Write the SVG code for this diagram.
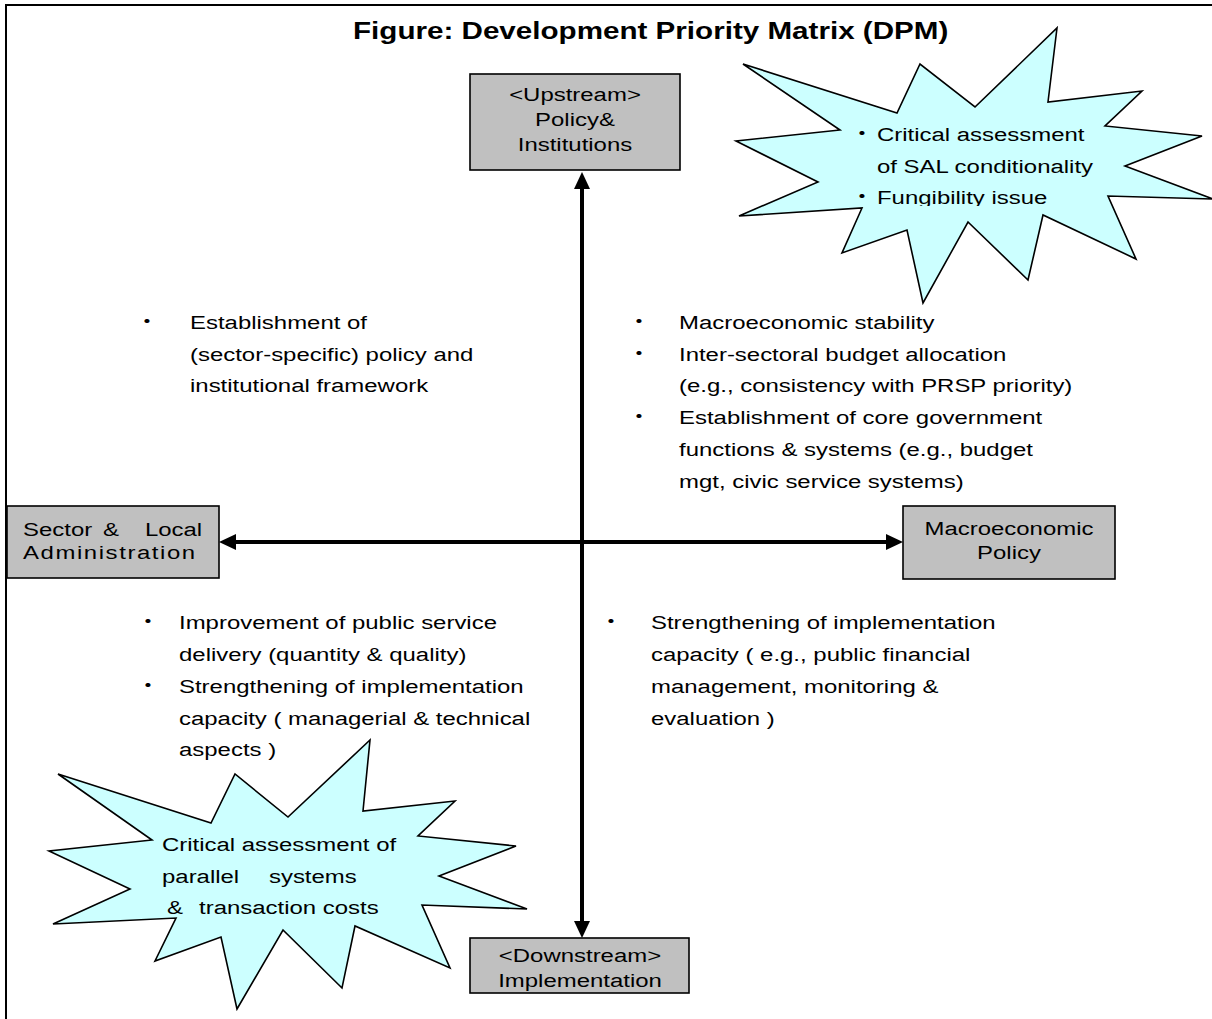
<svg xmlns="http://www.w3.org/2000/svg" width="1212" height="1019" viewBox="0 0 1212 1019">
<style>
.tx{font-family:"Liberation Sans",Arial,sans-serif;font-size:19px;fill:#000}
.mid{text-anchor:middle}
.bl{font-family:"Noto Sans CJK JP","Liberation Sans",sans-serif;font-size:19px;fill:#000;text-anchor:middle}
.ti{font-family:"Liberation Sans",Arial,sans-serif;font-size:23.5px;font-weight:bold;fill:#000}
.box{fill:#c0c0c0;stroke:#000;stroke-width:1.6}
.burst{fill:#ccffff;stroke:#000;stroke-width:1.6;stroke-linejoin:miter}
.axis{stroke:#000;stroke-width:4;fill:none}
</style>
<defs>
<marker id="ah" markerUnits="userSpaceOnUse" markerWidth="18" markerHeight="16" refX="7" refY="8" orient="auto-start-reverse" viewBox="0 0 18 16">
<path d="M0,0 L17,8 L0,16 Z" fill="#000"/>
</marker>
<clipPath id="clipS1"><rect x="700" y="100" width="512" height="106"/></clipPath>
</defs>
<rect x="6" y="5" width="1230" height="1040" fill="#fff" stroke="#000" stroke-width="2"/>
<text id="title" class="ti" transform="translate(353 0) scale(1.26 1)" x="0" y="39">Figure: Development Priority Matrix (DPM)</text>

<g id="connectors">
<line class="axis" x1="582" y1="182" x2="582" y2="928" marker-start="url(#ah)" marker-end="url(#ah)"/>
<line class="axis" x1="229" y1="542" x2="893" y2="542" marker-start="url(#ah)" marker-end="url(#ah)"/>
</g>

<g id="node-upstream">
<rect class="box" x="470" y="74" width="210" height="96"/>
<text class="tx mid" transform="translate(575 0) scale(1.26 1)"><tspan x="0" y="101">&lt;Upstream&gt;</tspan><tspan x="0" y="126">Policy&amp;</tspan><tspan x="0" y="151">Institutions</tspan></text>
</g>

<g id="node-sector">
<rect class="box" x="7" y="506" width="212" height="72"/>
<text class="tx" transform="translate(23 0) scale(1.26 1)"><tspan x="0" y="536">Sector</tspan><tspan x="63.5" y="536">&amp;</tspan><tspan x="96.8" y="536">Local</tspan><tspan x="0" y="559" letter-spacing="1.25">Administration</tspan></text>
</g>

<g id="node-macro">
<rect class="box" x="903" y="506" width="212" height="73"/>
<text class="tx mid" transform="translate(1009 0) scale(1.26 1)"><tspan x="0" y="535">Macroeconomic</tspan><tspan x="0" y="559">Policy</tspan></text>
</g>

<g id="node-downstream">
<rect class="box" x="470" y="938" width="219" height="55"/>
<text class="tx mid" transform="translate(580 0) scale(1.26 1)"><tspan x="0" y="962">&lt;Downstream&gt;</tspan><tspan x="0" y="987">Implementation</tspan></text>
</g>

<g id="node-burst-top">
<polygon class="burst" points="743,64 897,113 920,64 975,107 1057,28 1048,102 1142,91 1105,126 1202,136 1125,166 1213,199 1108,196 1136,259 1043,215 1028,280 968,222 923,303 907,230 842,253 862,208 739,216 818,182 736,141 840,130"/>
<g clip-path="url(#clipS1)">
<text class="bl" transform="translate(862 0) scale(1.26 1)"><tspan x="0" y="141">・</tspan><tspan x="0" y="204">・</tspan></text>
<text class="tx" transform="translate(877 0) scale(1.26 1)"><tspan x="0" y="141">Critical assessment</tspan><tspan x="0" y="173">of SAL conditionality</tspan><tspan x="0" y="204">Fungibility issue</tspan></text>
</g>
</g>

<g id="node-burst-bottom">
<polygon class="burst" points="58,774 211,823 235,774 288,817 370,740 363,811 455,801 418,836 516,846 439,876 527,909 422,905 450,968 355,926 342,988 283,930 237,1009 221,937 155,961 176,918 53,924 130,889 49,851 152,840"/>
<text class="tx" transform="translate(162 0) scale(1.26 1)"><tspan x="0" y="851">Critical assessment of</tspan><tspan x="0" y="883">parallel</tspan><tspan x="84.9" y="883">systems</tspan><tspan x="4" y="914">&amp;</tspan><tspan x="29.4" y="914">transaction costs</tspan></text>
</g>

<g id="node-upper-left">
<text class="bl" transform="translate(147 0) scale(1.26 1)" x="0" y="329">・</text>
<text class="tx" transform="translate(190 0) scale(1.26 1)"><tspan x="0" y="329">Establishment of</tspan><tspan x="0" y="361">(sector-specific) policy and</tspan><tspan x="0" y="392">institutional framework</tspan></text>
</g>

<g id="node-upper-right">
<text class="bl" transform="translate(639 0) scale(1.26 1)"><tspan x="0" y="329">・</tspan><tspan x="0" y="361">・</tspan><tspan x="0" y="424">・</tspan></text>
<text class="tx" transform="translate(679 0) scale(1.26 1)"><tspan x="0" y="329">Macroeconomic stability</tspan><tspan x="0" y="361">Inter-sectoral budget allocation</tspan><tspan x="0" y="392">(e.g., consistency with PRSP priority)</tspan><tspan x="0" y="424">Establishment of core government</tspan><tspan x="0" y="456">functions &amp; systems (e.g., budget</tspan><tspan x="0" y="488">mgt, civic service systems)</tspan></text>
</g>

<g id="node-lower-left">
<text class="bl" transform="translate(148 0) scale(1.26 1)"><tspan x="0" y="629">・</tspan><tspan x="0" y="693">・</tspan></text>
<text class="tx" transform="translate(179 0) scale(1.26 1)"><tspan x="0" y="629">Improvement of public service</tspan><tspan x="0" y="661">delivery (quantity &amp; quality)</tspan><tspan x="0" y="693">Strengthening of implementation</tspan><tspan x="0" y="725">capacity ( managerial &amp; technical</tspan><tspan x="0" y="756">aspects )</tspan></text>
</g>

<g id="node-lower-right">
<text class="bl" transform="translate(611 0) scale(1.26 1)" x="0" y="629">・</text>
<text class="tx" transform="translate(651 0) scale(1.26 1)"><tspan x="0" y="629">Strengthening of implementation</tspan><tspan x="0" y="661">capacity ( e.g., public financial</tspan><tspan x="0" y="693">management, monitoring &amp;</tspan><tspan x="0" y="725">evaluation )</tspan></text>
</g>
</svg>
